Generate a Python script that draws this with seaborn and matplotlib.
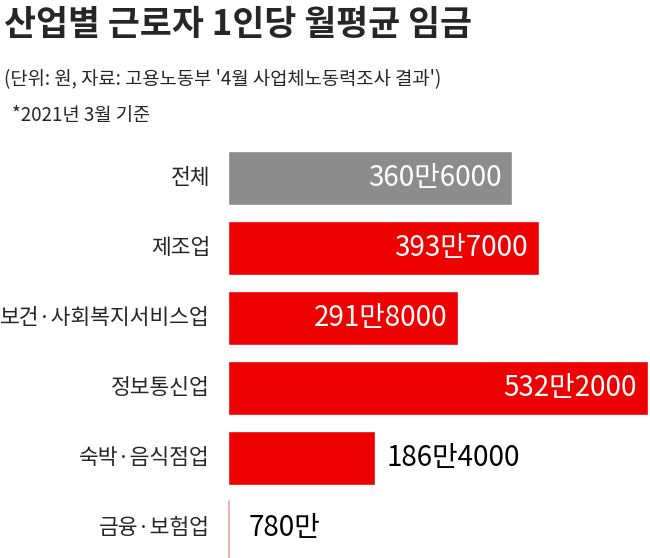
import matplotlib
matplotlib.use("Agg")
import matplotlib.pyplot as plt
import pandas as pd
import seaborn as sns

categories = ["전체", "제조업", "보건·사회복지서비스업", "정보통신업", "숙박·음식점업", "금융·보험업"]
values_man = [360.6, 393.7, 291.8, 532.2, 186.4, 780.0]
value_labels = ["360만6000", "393만7000", "291만8000", "532만2000", "186만4000", "780만"]
bar_colors = ["#8c8c8c", "#ee0000", "#ee0000", "#ee0000", "#ee0000", "#ffffff"]
inside = [True, True, True, True, False, False]

sns.set_theme(style="white")
plt.rcParams["font.family"] = ["Noto Sans CJK KR", "DejaVu Sans"]

df = pd.DataFrame({"category": categories, "value": values_man})

fig = plt.figure(figsize=(6.5, 5.58), dpi=100)
ax = fig.add_axes([228 / 650, 0, 422 / 650, (558 - 143) / 558])
sns.barplot(data=df, y="category", x="value", hue="category", palette=bar_colors,
            legend=False, width=0.78, ax=ax, saturation=1)
ax.set_xlim(0, 535)
ax.set_ylim(5.43, -0.5)
ax.axis("off")

# thin marker for the last (cropped) row
ax.plot([1, 1], [4.62, 5.43], color="#f4a0a0", lw=1.2)

for i, (v, lab, ins) in enumerate(zip(values_man, value_labels, inside)):
    if ins:
        ax.text(v - 14, i, lab, color="white", fontsize=20, ha="right", va="center",
                fontweight="medium")
    elif i == 4:
        ax.text(v + 14, i, lab, color="black", fontsize=20, ha="left", va="center",
                fontweight="medium")
    else:
        ax.text(26, i, lab, color="black", fontsize=20, ha="left", va="center",
                fontweight="medium")
    fig.text(210 / 650, 1 - (178 + i * 70) / 558, categories[i], fontsize=15.5,
             ha="right", va="center")

fig.text(4 / 650, 1 - 24 / 558, "산업별 근로자 1인당 월평균 임금", fontsize=25,
         fontweight="bold", va="center")
fig.text(4 / 650, 1 - 80 / 558, "(단위: 원, 자료: 고용노동부 '4월 사업체노동력조사 결과')",
         fontsize=13.5, va="center")
fig.text(12 / 650, 1 - 115 / 558, "*2021년 3월 기준", fontsize=13.5, va="center")

fig.savefig("out.png", dpi=100)
